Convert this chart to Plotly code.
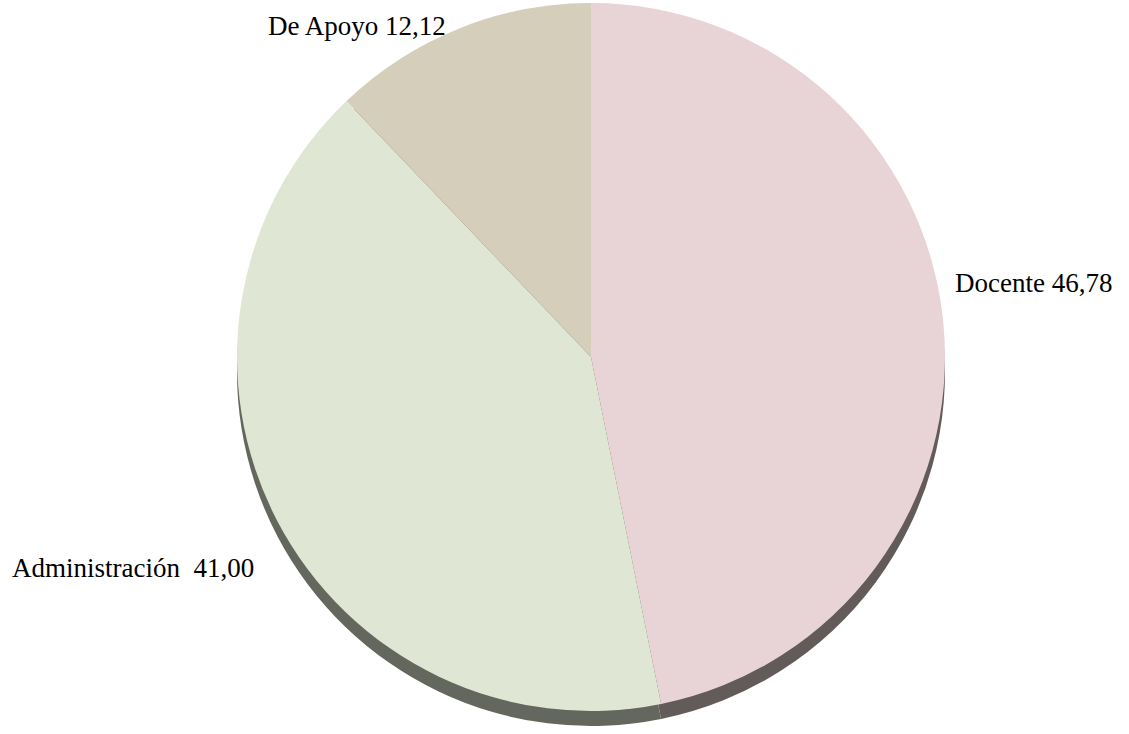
import plotly.graph_objects as go

categories = ["Docente", "Administración", "De Apoyo"]
values = [46.78, 41.00, 12.12]
label_seps = [" ", "  ", " "]

face_colors = ["#E8D4D6", "#DFE6D4", "#D5CEBB"]
side_colors = ["#635B59", "#64675D", "#6E6A5E"]

W, H = 1129, 734
cx, cy, r, depth = 591, 357, 354, 15

def dom(cx, cy, r):
    y0 = max(0.0, (H - (cy + r)) / H)
    y1 = min(1.0, (H - (cy - r)) / H)
    return dict(x=[(cx - r) / W, (cx + r) / W], y=[y0, y1])

fig = go.Figure()
fig.add_trace(go.Pie(
    labels=categories, values=values, sort=False, direction="clockwise", rotation=0,
    marker=dict(colors=side_colors, line=dict(width=0)), textinfo="none",
    domain=dom(cx, cy + depth, r), showlegend=False, hoverinfo="skip"))
fig.add_trace(go.Pie(
    labels=categories, values=values, sort=False, direction="clockwise", rotation=0,
    marker=dict(colors=face_colors, line=dict(width=0)), textinfo="none",
    domain=dom(cx, cy, r), showlegend=False))

fmt = lambda v: f"{v:.2f}".replace(".", ",")
label_pos = [(953, 283), (10, 568), (266, 26)]
for cat, v, sep, (x, y) in zip(categories, values, label_seps, label_pos):
    fig.add_annotation(text=f"{cat}{sep}{fmt(v)}", x=x / W, y=1 - y / H,
                       xref="paper", yref="paper",
                       xanchor="left", yanchor="middle", showarrow=False,
                       font=dict(family="Liberation Serif, Times New Roman, serif", size=27, color="#000000"))

fig.update_layout(width=W, height=H, margin=dict(l=0, r=0, t=0, b=0),
                  paper_bgcolor="white", plot_bgcolor="white")
fig.write_html("out.html", config={"displayModeBar": False},
               post_script="document.body.style.margin='0';")
